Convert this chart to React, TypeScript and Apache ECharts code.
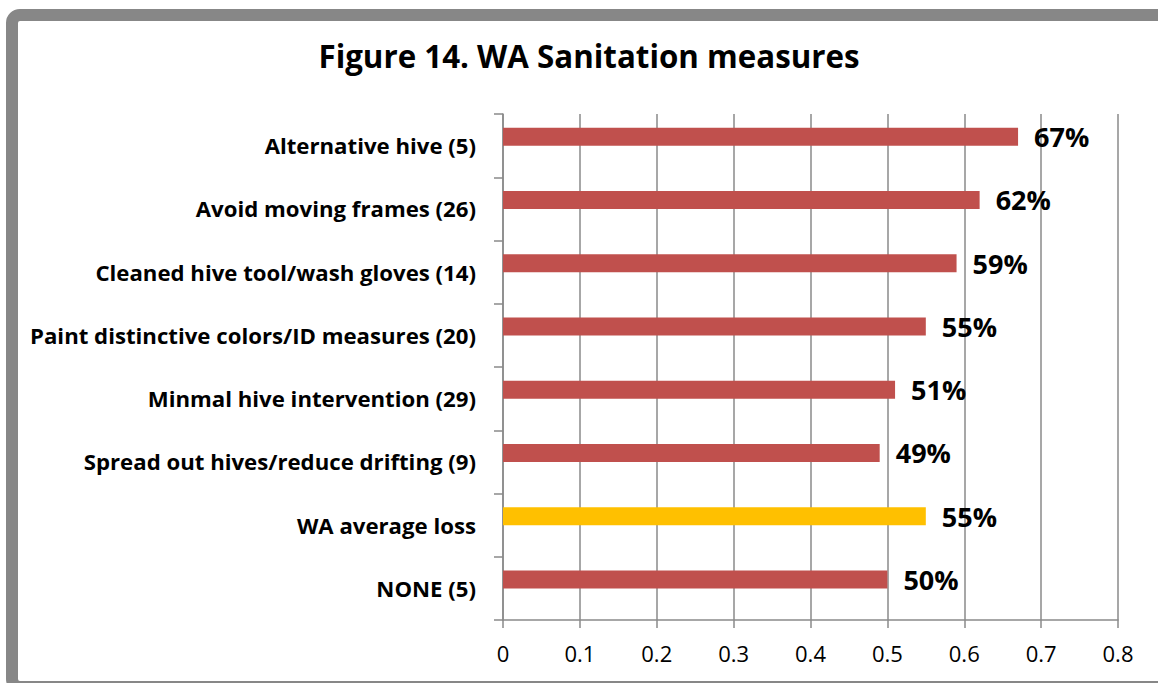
import React, { useEffect, useRef } from "react";
import * as echarts from "echarts";

const titleText = "Figure 14. WA Sanitation measures";
const categories = [
  "Alternative hive (5)",
  "Avoid moving frames (26)",
  "Cleaned hive tool/wash gloves (14)",
  "Paint distinctive colors/ID measures (20)",
  "Minmal hive intervention (29)",
  "Spread out hives/reduce drifting (9)",
  "WA average loss",
  "NONE (5)",
];
const values = [0.67, 0.62, 0.59, 0.55, 0.51, 0.49, 0.55, 0.5];
const highlightCategory = "WA average loss";
const xTicks = [0, 0.1, 0.2, 0.3, 0.4, 0.5, 0.6, 0.7, 0.8];

const RED = "#C0504D";
const YELLOW = "#FFC000";
const GRID = "#8a8a8a";

export default function App() {
  const ref = useRef<HTMLDivElement>(null);
  useEffect(() => {
    document.body.style.margin = "0";
    if (!ref.current) return;
    const chart = echarts.init(ref.current, null, { renderer: "svg" });
    const font = "'Open Sans', 'Noto Sans', sans-serif";
    chart.setOption({
      animation: false,
      backgroundColor: "#ffffff",
      title: {
        text: titleText,
        left: 584,
        textAlign: "center",
        top: 35,
        textStyle: { fontFamily: font, fontWeight: "bold", fontSize: 31.3, color: "#000" },
      },
      graphic: [
        {
          type: "rect",
          shape: { x: 12, y: 15, width: 1300, height: 672, r: 8 },
          style: { fill: "none", stroke: "#878787", lineWidth: 12 },
          silent: true,
          z: 100,
        },
      ],
      grid: { left: 503, right: 40, top: 114, bottom: 63, containLabel: false },
      xAxis: {
        type: "value",
        min: 0,
        max: xTicks[xTicks.length - 1],
        interval: 0.1,
        axisLine: { show: true, lineStyle: { color: GRID, width: 1.5 } },
        axisTick: { show: true, length: 8, lineStyle: { color: GRID, width: 1.5 } },
        splitLine: { show: true, lineStyle: { color: GRID, width: 1.5 } },
        axisLabel: {
          margin: 22,
          fontFamily: font,
          fontSize: 22,
          color: "#000",
          formatter: (v: number) => String(Math.round(v * 10) / 10),
        },
      },
      yAxis: {
        type: "category",
        data: categories,
        inverse: true,
        axisLine: { show: true, lineStyle: { color: GRID, width: 1.5 } },
        axisTick: { show: true, length: 9, lineStyle: { color: GRID, width: 1.5 } },
        splitLine: { show: false },
        axisLabel: {
          margin: 27,
          fontFamily: font,
          fontWeight: "bold",
          fontSize: 22.2,
          color: "#000",
        },
      },
      series: [
        {
          type: "bar",
          barWidth: 18,
          barGap: "0%",
          data: values.map((v, i) => ({
            value: v,
            itemStyle: { color: categories[i] === highlightCategory ? YELLOW : RED },
          })),
          label: {
            show: true,
            position: "right",
            distance: 16,
            fontFamily: font,
            fontWeight: "bold",
            fontSize: 27,
            color: "#000",
            formatter: (p: any) => Math.round(p.value * 100) + "%",
          },
        },
        {
          type: "bar",
          barWidth: 18,
          barGap: "0%",
          data: values.map(() => null),
        },
      ],
    });
    return () => chart.dispose();
  }, []);
  return <div ref={ref} style={{ width: 1158, height: 683 }} />;
}
